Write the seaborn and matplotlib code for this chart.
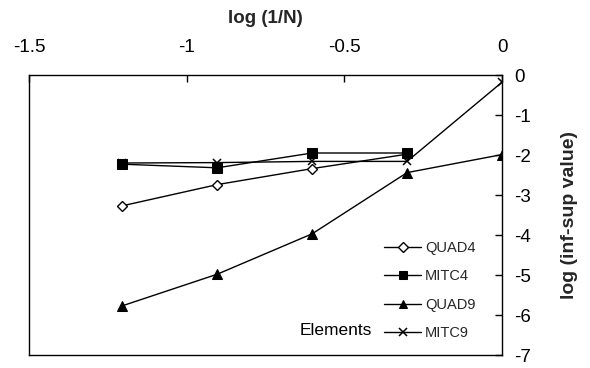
import matplotlib
matplotlib.use("Agg")
import matplotlib.pyplot as plt
import seaborn as sns
import pandas as pd

x_vals = [-1.204, -0.903, -0.602, -0.301, 0.0]
quad4 = [-3.27, -2.74, -2.34, -1.98]
mitc4 = [-2.23, -2.32, -1.95, -1.95]
quad9 = [-5.77, -4.98, -3.97, -2.44, -1.99]
mitc9 = [-2.20, -2.19, -2.16, -2.16, -0.18]
series_names = ["QUAD4", "MITC4", "QUAD9", "MITC9"]
series_vals = [quad4, mitc4, quad9, mitc9]
x_ticks = [-1.5, -1, -0.5, 0]
x_tick_labels = ["-1.5", "-1", "-0.5", "0"]
y_ticks = [0, -1, -2, -3, -4, -5, -6, -7]

sns.set_theme(style="white")
plt.rcParams["font.family"] = ["Liberation Sans", "DejaVu Sans"]

rows = []
for name, vals in zip(series_names, series_vals):
    for xv, yv in zip(x_vals, vals):
        rows.append({"x": xv, "y": yv, "Element": name})
df = pd.DataFrame(rows)

fig = plt.figure(figsize=(5.9, 3.68), dpi=100)
ax = fig.add_axes([29 / 590, 1 - 355 / 368, (502 - 29) / 590, (355 - 75) / 368])

marker_styles = {
    "QUAD4": dict(marker="D", markersize=5.5, markerfacecolor="white", markeredgecolor="black", markeredgewidth=1.0),
    "MITC4": dict(marker="s", markersize=6.5, markerfacecolor="black", markeredgecolor="black"),
    "QUAD9": dict(marker="^", markersize=7.5, markerfacecolor="black", markeredgecolor="black"),
    "MITC9": dict(marker="x", markersize=6, markeredgecolor="black", markeredgewidth=1.1),
}

for name in series_names:
    sub = df[df["Element"] == name]
    sns.lineplot(data=sub, x="x", y="y", ax=ax, color="black", linewidth=1.0,
                 label=name, sort=False, **marker_styles[name])

ax.set_xlim(-1.5, 0)
ax.set_ylim(-7, 0)
ax.xaxis.tick_top()
ax.xaxis.set_label_position("top")
ax.yaxis.tick_right()
ax.yaxis.set_label_position("right")
ax.set_xticks(x_ticks)
ax.set_xticklabels(x_tick_labels)
ax.set_yticks(y_ticks)
ax.set_yticklabels([str(t) for t in y_ticks])
ax.tick_params(axis="both", direction="in", length=5, width=1, color="black",
               labelsize=13.5, labelcolor="black")
ax.tick_params(axis="x", pad=14)
ax.tick_params(axis="y", pad=9)
ax.set_xlabel("log (1/N)", fontsize=13.5, fontweight="bold", labelpad=11)
ax.set_ylabel("log (inf-sup value)", fontsize=14, fontweight="bold", labelpad=21)
for s in ax.spines.values():
    s.set_color("black")
    s.set_linewidth(1.0)

leg = ax.legend(loc="lower right", bbox_to_anchor=(0.972, 0.005), frameon=False,
                fontsize=10.5, handlelength=2.5, labelspacing=1.0, handletextpad=0.3,
                markerscale=0.85)
ax.text(0.725, 0.089, "Elements", transform=ax.transAxes, fontsize=12.5,
        ha="right", va="center", color="black")

fig.savefig("out.png", dpi=100)
